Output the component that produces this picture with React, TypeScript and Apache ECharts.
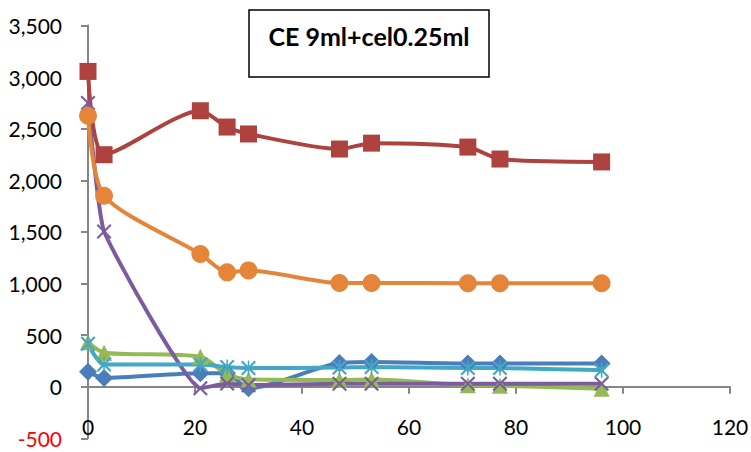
import { useEffect, useRef } from "react";
import * as echarts from "echarts";

// Sampling times (x) shared by every series
const hours = [0, 3, 21, 26, 30, 47, 53, 71, 77, 96];

// Series values
const blueDiamond = [145, 85, 130, 130, -15, 230, 240, 225, 225, 225];
const redSquare = [3055, 2248, 2674, 2516, 2449, 2303, 2360, 2322, 2206, 2178];
const greenTriangle = [430, 330, 290, 120, 70, 65, 70, 15, 10, -20];
const purpleCross = [2750, 1505, -15, 30, 15, 28, 28, 28, 28, 28];
const tealStar = [415, 215, 215, 190, 180, 185, 190, 180, 180, 160];
const orangeCircle = [2626, 1851, 1286, 1108, 1127, 1005, 1005, 1003, 1003, 1003];

const titleText = "CE 9ml+cel0.25ml";

const FONT = "Lato, 'Open Sans', sans-serif";

// Value range of the vertical axis
const Y_MIN = -500;
const Y_MAX = 3500;
const GRID_TOP = 25.5;
const GRID_BOTTOM = 13.7;
const CHART_H = 452;

// Thin-armed marker outlines
const crossPath = "path://M0,1 L1,0 L10,9 L9,10 Z M9,0 L10,1 L1,10 L0,9 Z";
const starPath =
  "path://M0,1 L1,0 L10,9 L9,10 Z M9,0 L10,1 L1,10 L0,9 Z M4.5,0 L5.5,0 L5.5,10 L4.5,10 Z";

const pairs = (ys: number[]) => hours.map((x, i) => [x, ys[i]]);

function makeSeries(
  name: string,
  ys: number[],
  color: string,
  symbol: string,
  symbolSize: number,
  smooth = 0.25
) {
  return {
    name,
    type: "line",
    data: pairs(ys),
    smooth,
    symbol,
    symbolSize,
    showSymbol: true,
    lineStyle: { color, width: 4 },
    itemStyle: { color },
    emphasis: { disabled: true },
  };
}

export default function App() {
  const ref = useRef<HTMLDivElement>(null);

  useEffect(() => {
    if (!ref.current) return;
    const chart = echarts.init(ref.current, undefined, { renderer: "svg" });
    // horizontal axis sits on the y = 0 line, labels included
    const plotH = CHART_H - GRID_TOP - GRID_BOTTOM;
    const zeroLift = (plotH * (0 - Y_MIN)) / (Y_MAX - Y_MIN);
    chart.setOption({
      animation: false,
      backgroundColor: "#ffffff",
      grid: {
        left: 88,
        right: 21,
        top: GRID_TOP,
        bottom: GRID_BOTTOM,
        containLabel: false,
        outerBoundsMode: "none",
      },
      xAxis: {
        type: "value",
        min: 0,
        max: 120,
        interval: 20,
        position: "bottom",
        offset: -zeroLift,
        axisLine: { onZero: false, lineStyle: { color: "#868686", width: 2 } },
        axisTick: { show: true, length: 7, lineStyle: { color: "#868686", width: 2 } },
        axisLabel: { margin: 29, fontFamily: FONT, fontSize: 21, color: "#000" },
        splitLine: { show: false },
      },
      yAxis: {
        type: "value",
        min: Y_MIN,
        max: Y_MAX,
        interval: 500,
        axisLine: { show: true, lineStyle: { color: "#868686", width: 2 } },
        axisTick: { show: true, length: 7, lineStyle: { color: "#868686", width: 2 } },
        axisLabel: {
          margin: 26,
          fontFamily: FONT,
          fontSize: 21,
          color: (v: any) => (Number(v) < 0 ? "#FF0000" : "#000000"),
          formatter: (v: number) => v.toLocaleString("en-US"),
        },
        splitLine: { show: false },
      },
      series: [
        makeSeries("blue", blueDiamond, "#4A7EBB", "diamond", 18),
        makeSeries("red", redSquare, "#AD423F", "rect", 17),
        makeSeries("green", greenTriangle, "#95B954", "triangle", 16),
        makeSeries("purple", purpleCross, "#7B5C9E", crossPath, 15, 0.12),
        makeSeries("teal", tealStar, "#43A8C3", starPath, 15),
        makeSeries("orange", orangeCircle, "#E5853A", "circle", 18),
      ],
      graphic: [
        {
          type: "rect",
          shape: { x: 249, y: 10, width: 240, height: 67 },
          style: { fill: "#ffffff", stroke: "#000000", lineWidth: 1.5 },
          z: 100,
        },
        {
          type: "text",
          x: 369,
          y: 36,
          style: {
            text: titleText,
            font: `bold 25px ${FONT}`,
            fill: "#000000",
            align: "center",
            verticalAlign: "middle",
          },
          z: 101,
        },
      ],
    });
    return () => chart.dispose();
  }, []);

  return <div ref={ref} style={{ width: 751, height: 452, position: "absolute", left: 0, top: 0 }} />;
}
